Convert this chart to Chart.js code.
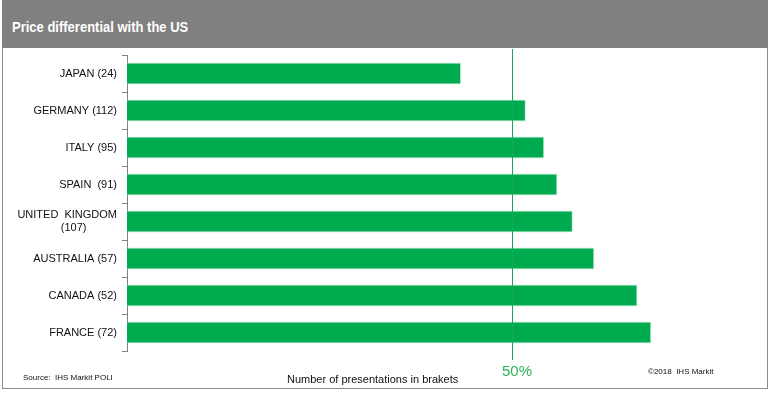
<!DOCTYPE html>
<html>
<head>
<meta charset="utf-8">
<script src="https://cdn.jsdelivr.net/npm/chart.js@4"></script>
<style>
  html, body { margin: 0; padding: 0; background: #fff; }
  #wrap { position: relative; width: 771px; height: 394px; overflow: hidden; font-family: "Liberation Sans", Arial, sans-serif; }
  #frame { position: absolute; left: 2px; top: 0; width: 764px; height: 388px; border: 1px solid #8c8c8c; border-top: none; box-sizing: content-box; }
  #header { position: absolute; left: 2px; top: 0; width: 766px; height: 48px; background: #808080; }
  #title { position: absolute; left: 12px; top: 19px; color: #fff; font-weight: bold; font-size: 13px; white-space: nowrap; transform: scaleY(1.12); transform-origin: left top; }
  canvas { position: absolute; left: 0; top: 0; }
  .note { position: absolute; font-size: 8px; color: #111; white-space: nowrap; }
  #xtitle { position: absolute; left: 287px; top: 373px; font-size: 11px; color: #111; white-space: nowrap; }
</style>
</head>
<body>
<div id="wrap">
  <div id="frame"></div>
  <div id="header"></div>
  <div id="title">Price differential with the US</div>
  <canvas id="c" width="771" height="394"></canvas>
  <div class="note" style="left:23px; top:373px;">Source:&nbsp; IHS Markit POLI</div>
  <div class="note" style="left:648px; top:367px;">©2018&nbsp; IHS Markit</div>
  <div id="xtitle">Number of presentations in brakets</div>
</div>
<script>
// ---- data ----
const categories = [
  "JAPAN (24)",
  "GERMANY (112)",
  "ITALY (95)",
  "SPAIN  (91)",
  ["UNITED  KINGDOM", "(107)          "],
  "AUSTRALIA (57)",
  "CANADA (52)",
  "FRANCE (72)"
];
const priceDifferential = [43.4, 51.8, 54.2, 55.9, 57.9, 60.7, 66.3, 68.1];
const referenceValue = 50;
const referenceLabel = "50%";

const GREEN = "#00aa4f";
const LINE_GREEN = "#1aa55a";

const refLine = {
  id: "refLine",
  afterDatasetsDraw(chart) {
    const x = chart.scales.x.getPixelForValue(referenceValue);
    const ctx = chart.ctx;
    ctx.save();
    ctx.strokeStyle = LINE_GREEN;
    ctx.lineWidth = 1;
    ctx.beginPath();
    ctx.moveTo(Math.round(x) + 0.5, 49);
    ctx.lineTo(Math.round(x) + 0.5, 360);
    ctx.stroke();
    ctx.restore();
  }
};

new Chart(document.getElementById("c"), {
  type: "bar",
  data: {
    labels: categories,
    datasets: [{
      data: priceDifferential,
      backgroundColor: GREEN,
      borderColor: "#c9efd5",
      borderWidth: 1,
      borderSkipped: "start",
      barPercentage: 0.6,
      categoryPercentage: 1.0
    }]
  },
  options: {
    indexAxis: "y",
    responsive: false,
    animation: false,
    devicePixelRatio: 1,
    layout: { padding: { top: 55, right: 28, left: 0, bottom: 0 } },
    plugins: { legend: { display: false }, tooltip: { enabled: false } },
    scales: {
      x: {
        min: 0, max: 80,
        afterBuildTicks: (s) => { s.ticks = [{ value: referenceValue }]; },
        afterFit: (s) => { s.height = 43; },
        grid: { display: false },
        border: { display: false },
        ticks: {
          callback: () => referenceLabel,
          color: "#2db35a",
          font: { family: "Liberation Sans", size: 15 },
          padding: 4,
          labelOffset: 5,
          maxRotation: 0
        }
      },
      y: {
        afterFit: (s) => { s.width = 127; },
        grid: {
          offset: true,
          drawOnChartArea: false,
          drawTicks: true,
          tickLength: 5,
          color: "#808080"
        },
        border: { display: true, color: "#808080", width: 1 },
        ticks: {
          color: "#111",
          font: { family: "Liberation Sans", size: 11 },
          padding: 5,
          autoSkip: false
        }
      }
    }
  },
  plugins: [refLine]
});
</script>
</body>
</html>
